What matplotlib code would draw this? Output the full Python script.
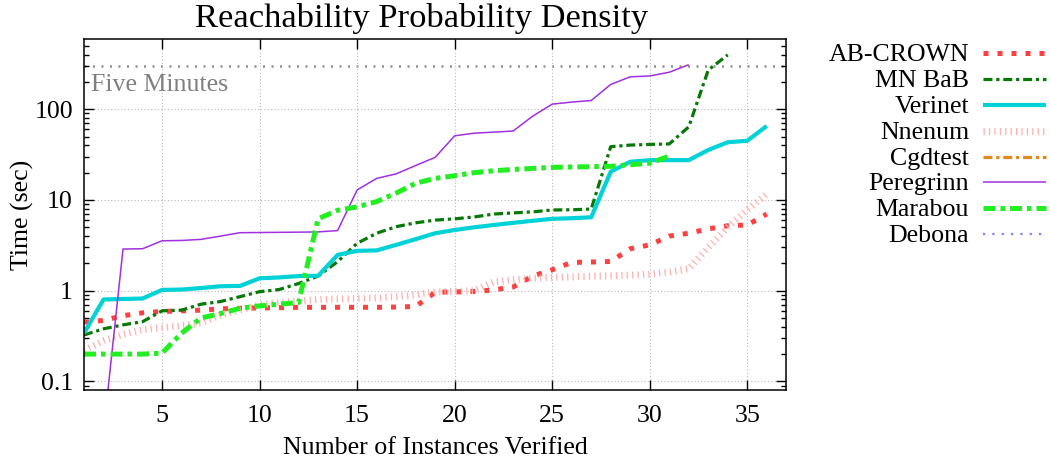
import numpy as np
import matplotlib
matplotlib.use("Agg")
import matplotlib.pyplot as plt
from matplotlib.lines import Line2D
from matplotlib.ticker import LogLocator, FixedLocator, NullFormatter, FuncFormatter

plt.rcParams['font.family'] = ['Liberation Serif', 'DejaVu Serif']

# ---------------- data ----------------
ab_crown = [0.45, 0.47, 0.53, 0.57, 0.59, 0.60, 0.61, 0.63, 0.64, 0.645, 0.65, 0.655,
            0.656, 0.656, 0.656, 0.656, 0.66, 0.67, 0.96, 0.97, 0.98, 1.02, 1.1, 1.45,
            1.7, 2.05, 2.07, 2.1, 2.9, 3.2, 4.0, 4.3, 4.8, 5.2, 5.3, 7.0]
mn_bab = [0.325, 0.38, 0.42, 0.455, 0.60, 0.61, 0.71, 0.76, 0.86, 0.975, 1.03, 1.2,
          1.45, 2.09, 3.33, 4.3, 5.08, 5.6, 6.0, 6.2, 6.5, 7.0, 7.2, 7.4, 7.76, 7.8,
          7.95, 38.7, 40.3, 41.0, 41.5, 64.0, 271.0, 398.0]
verinet = [0.34, 0.80, 0.81, 0.82, 1.02, 1.03, 1.07, 1.12, 1.13, 1.37, 1.40, 1.45,
           1.46, 2.48, 2.75, 2.78, 3.2, 3.7, 4.3, 4.67, 5.0, 5.3, 5.6, 5.9, 6.2, 6.3,
           6.45, 20.5, 26.4, 27.5, 27.5, 27.5, 35.6, 43.3, 45.0, 65.5]
nnenum = [0.22, 0.28, 0.33, 0.37, 0.39, 0.41, 0.44, 0.54, 0.61, 0.70, 0.74, 0.77,
          0.80, 0.81, 0.82, 0.83, 0.86, 0.90, 0.97, 0.98, 1.0, 1.25, 1.32, 1.37, 1.40,
          1.42, 1.44, 1.46, 1.48, 1.52, 1.6, 1.75, 3.0, 5.0, 7.8, 11.6]
cgdtest = []
peregrinn = [0.01, 0.028, 2.88, 2.9, 3.55, 3.58, 3.68, 4.0, 4.36, 4.38, 4.4, 4.42,
             4.45, 4.6, 12.9, 17.3, 19.4, 24.0, 29.5, 51.0, 54.5, 56.0, 57.6, 84.0,
             114.0, 120.0, 125.0, 188.0, 228.0, 233.0, 256.0, 310.0]
marabou = [0.20, 0.20, 0.20, 0.20, 0.205, 0.34, 0.50, 0.56, 0.64, 0.68, 0.71, 0.74,
           6.2, 7.7, 8.4, 9.6, 11.9, 15.3, 17.3, 18.5, 20.0, 21.0, 21.7, 22.3, 22.9,
           23.1, 23.3, 23.5, 24.5, 25.4, 30.5]
debona = []

labels = ["AB-CROWN", "MN BaB", "Verinet", "Nnenum", "Cgdtest", "Peregrinn", "Marabou", "Debona"]
series = [ab_crown, mn_bab, verinet, nnenum, cgdtest, peregrinn, marabou, debona]
five_minutes = 300
x_ticks = [5, 10, 15, 20, 25, 30, 35]
y_ticks = [0.1, 1, 10, 100]

# ---------------- styles ----------------
styles = [
    dict(color="#ff4040", lw=3.6, ls=(0, (1, 1.8))),
    dict(color="#067806", lw=2.3, ls=(0, (2.8, 1.2, 1.0, 1.2))),
    dict(color="#00d2d8", lw=3.0, ls="-"),
    dict(color="#ffb0b0", lw=5.0, ls=(0, (0.18, 0.6))),
    dict(color="#e08a1c", lw=2.3, ls=(0, (2.8, 1.2, 1.0, 1.2))),
    dict(color="#a030e0", lw=1.1, ls="-"),
    dict(color="#22ee22", lw=3.6, ls=(0, (2.4, 1.0, 0.9, 1.0))),
    dict(color="#8080ff", lw=1.6, ls=(0, (1, 3.2))),
]

FS = 18.6
W, H = 1050, 466
fig = plt.figure(figsize=(W / 100, H / 100), dpi=100)
L, R, T, B = 84, 786.3, 39.3, 390
ax = fig.add_axes([L / W, 1 - B / H, (R - L) / W, (B - T) / H])

for vals, st in zip(series, styles):
    if len(vals) == 0:
        continue
    xs = np.arange(1, len(vals) + 1)
    ax.plot(xs, vals, color=st["color"], lw=st["lw"], linestyle=st["ls"],
            solid_capstyle="butt", dash_capstyle="butt")

ax.axhline(five_minutes, color="#909090", lw=1.8, linestyle=(0, (0.8, 2.6)), zorder=1)
ax.annotate("Five Minutes", xy=(0, five_minutes), xycoords=("axes fraction", "data"),
            xytext=(5, -5.5), textcoords="offset points", ha="left", va="top",
            fontsize=FS, color="#808080")

ax.set_yscale("log")
ax.set_xlim(1, 37)
ax.set_ylim(0.0804, 591)
ax.xaxis.set_major_locator(FixedLocator(x_ticks))
ax.yaxis.set_major_locator(FixedLocator(y_ticks))
ax.yaxis.set_minor_locator(LogLocator(base=10, subs=np.arange(2, 10)))
ax.yaxis.set_minor_formatter(NullFormatter())
ax.yaxis.set_major_formatter(FuncFormatter(lambda v, p: f"{v:g}"))
ax.grid(True, which="major", color="#b8b8b8", lw=0.8, linestyle=(0, (1, 2)))
ax.tick_params(which="both", direction="in", top=True, right=True, labelsize=FS,
               width=1.0)
ax.tick_params(which="major", length=7, pad=8)
ax.tick_params(which="minor", length=3.5)
ax.tick_params(axis="x", pad=11)
for s in ax.spines.values():
    s.set_linewidth(1.1)

ax.set_xlabel("Number of Instances Verified", fontsize=FS, labelpad=7)
ax.set_ylabel("Time (sec)", fontsize=FS, labelpad=0)
fig.text(422 / W, 1 - 19 / H, "Reachability Probability Density", fontsize=24.8,
         ha="center", va="center")

# ---------------- legend (right-aligned labels) ----------------
row0, dy = 52.7, 25.95
for i, (lab, st) in enumerate(zip(labels, styles)):
    y = row0 + i * dy
    fig.text(969 / W, 1 - (y + 2) / H, lab, fontsize=FS, ha="right", va="center")
    fig.add_artist(Line2D([983 / W, 1046 / W], [1 - y / H, 1 - y / H],
                          transform=fig.transFigure, color=st["color"], lw=st["lw"],
                          linestyle=st["ls"], solid_capstyle="butt", dash_capstyle="butt"))

fig.savefig("out.png", dpi=100)
